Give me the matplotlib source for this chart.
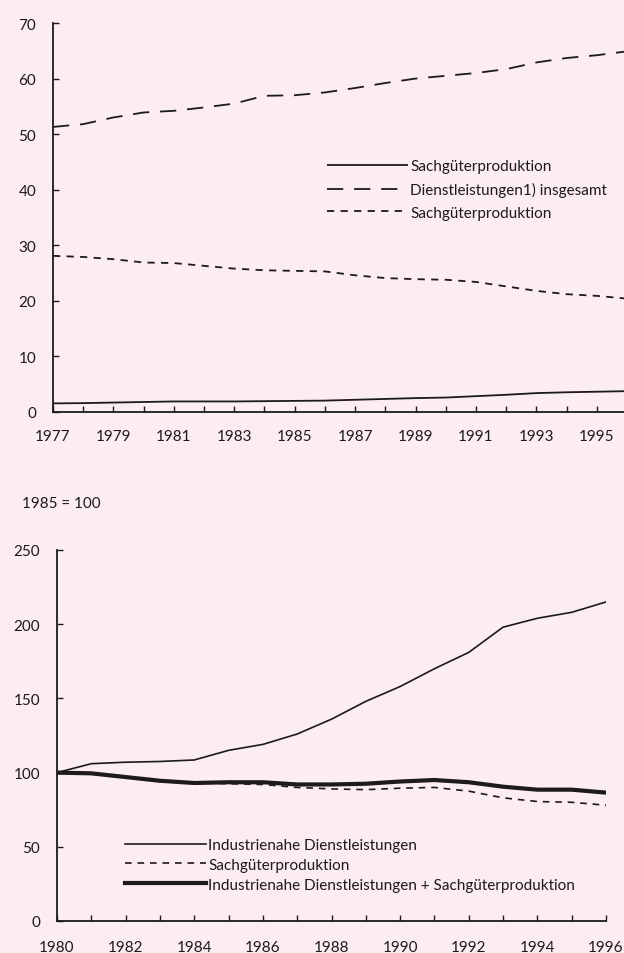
import matplotlib
matplotlib.use("Agg")
import matplotlib.pyplot as plt
from matplotlib.ticker import MultipleLocator, FixedLocator

# ---------- data ----------
years_top = list(range(1977, 1997))
sach_solid = [1.55, 1.6, 1.7, 1.8, 1.9, 1.9, 1.9, 1.95, 2.0, 2.05, 2.2, 2.35, 2.5, 2.6, 2.85, 3.1, 3.4, 3.55, 3.65, 3.75]
dienst = [51.3, 51.8, 53.0, 53.9, 54.2, 54.8, 55.5, 56.9, 57.0, 57.5, 58.3, 59.2, 60.0, 60.5, 61.0, 61.7, 62.9, 63.7, 64.2, 64.9]
sach_dash = [28.1, 27.9, 27.5, 26.9, 26.8, 26.3, 25.8, 25.5, 25.4, 25.3, 24.6, 24.1, 23.9, 23.8, 23.4, 22.6, 21.8, 21.2, 20.9, 20.4]
top_labels = ["Sachgüterproduktion", "Dienstleistungen1) insgesamt", "Sachgüterproduktion"]

years_bot = list(range(1980, 1997))
ind_dienst = [100, 106, 107, 107.5, 108.5, 115, 119, 126, 136, 148, 158, 170, 181, 198, 204, 208, 215]
sach_bot = [100, 99.5, 97, 94, 93, 92.5, 92, 90, 89, 88.5, 89.5, 90, 87.5, 83, 80.5, 80, 78]
combined = [100, 99.5, 97, 94.5, 93, 93.5, 93.5, 92, 92, 92.5, 94, 95, 93.5, 90.5, 88.5, 88.5, 86.5]
bot_labels = ["Industrienahe Dienstleistungen", "Sachgüterproduktion",
              "Industrienahe Dienstleistungen + Sachgüterproduktion"]
index_note = "1985 = 100"

# ---------- style ----------
BG = "#fcedf2"
INK = "#1c1a1b"
FS = 11
plt.rcParams['font.family'] = ['Lato', 'DejaVu Sans']
plt.rcParams['font.size'] = FS

fig = plt.figure(figsize=(6.24, 9.54), dpi=100, facecolor=BG)
W, H = 624, 954

def ax_rect(x0, x1, ytop, ybot):
    return [x0 / W, 1 - ybot / H, (x1 - x0) / W, (ybot - ytop) / H]

def style(ax, xpad):
    ax.set_facecolor(BG)
    for s in ("top", "right"):
        ax.spines[s].set_visible(False)
    for s in ("left", "bottom"):
        ax.spines[s].set_color(INK)
        ax.spines[s].set_linewidth(1.3)
    ax.tick_params(axis="both", direction="in", length=4, width=1.0, colors=INK,
                   labelcolor=INK, labelsize=FS)
    ax.tick_params(axis="y", pad=12)
    ax.tick_params(axis="x", pad=xpad)

# ---------- top chart ----------
ax1 = fig.add_axes(ax_rect(53, 627, 24, 413))
style(ax1, 12)
l1, = ax1.plot(years_top, sach_solid, color=INK, lw=1.3, solid_capstyle="butt")
l2, = ax1.plot(years_top, dienst, color=INK, lw=1.3, dashes=(9, 6))
l3, = ax1.plot(years_top, sach_dash, color=INK, lw=1.3, dashes=(4, 3.5))
ax1.set_xlim(1977, 1996)
ax1.set_ylim(0, 70)
ax1.yaxis.set_major_locator(MultipleLocator(10))
ax1.xaxis.set_major_locator(FixedLocator(list(range(1977, 1996, 2))))
ax1.xaxis.set_minor_locator(MultipleLocator(1))
ax1.tick_params(axis="x", which="minor", direction="in", length=4, width=1.0, colors=INK)
leg1 = ax1.legend([l1, l2, l3], top_labels, loc="upper left",
                  bbox_to_anchor=(327 / W, 1 - 160 / H), bbox_transform=fig.transFigure,
                  frameon=False, handlelength=5.3, handletextpad=0.15, labelspacing=0.58,
                  borderpad=0, borderaxespad=0, fontsize=FS)
for t in leg1.get_texts():
    t.set_color(INK)

# ---------- bottom chart ----------
ax2 = fig.add_axes(ax_rect(57, 606, 551, 922))
style(ax2, 14)
m1, = ax2.plot(years_bot, ind_dienst, color=INK, lw=1.2)
m2, = ax2.plot(years_bot, sach_bot, color=INK, lw=1.2, dashes=(4, 3.5))
m3, = ax2.plot(years_bot, combined, color=INK, lw=3.0)
ax2.set_xlim(1980, 1996)
ax2.set_ylim(0, 250)
ax2.yaxis.set_major_locator(MultipleLocator(50))
ax2.xaxis.set_major_locator(MultipleLocator(2))
ax2.xaxis.set_minor_locator(MultipleLocator(1))
ax2.tick_params(axis="x", which="minor", direction="in", length=4, width=1.0, colors=INK)
leg2 = ax2.legend([m1, m2, m3], bot_labels, loc="upper left",
                  bbox_to_anchor=(125 / W, 1 - 839 / H), bbox_transform=fig.transFigure,
                  frameon=False, handlelength=5.3, handletextpad=0.15, labelspacing=0.38,
                  borderpad=0, borderaxespad=0, fontsize=FS)
for t in leg2.get_texts():
    t.set_color(INK)

fig.text(22 / W, 1 - 504 / H, index_note, ha="left", va="center", fontsize=FS, color=INK)

fig.savefig("out.png", dpi=100, facecolor=BG)
